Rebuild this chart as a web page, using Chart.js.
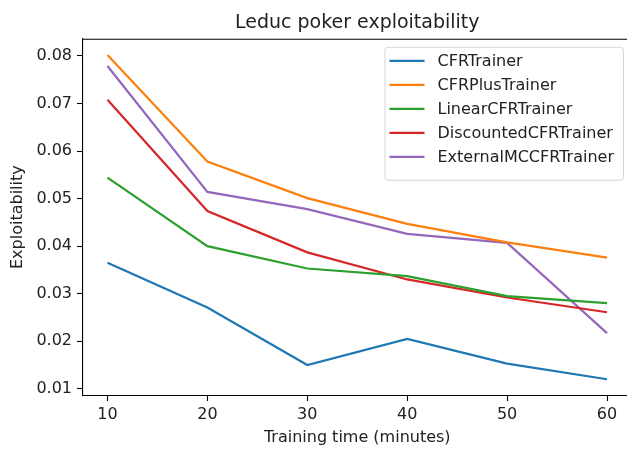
<!DOCTYPE html>
<html>
<head>
<meta charset="utf-8">
<script src="https://cdn.jsdelivr.net/npm/chart.js@4/dist/chart.umd.min.js"></script>
<style>
  html, body { margin: 0; padding: 0; background: #fff; overflow: hidden; }
  #wrap { width: 640px; height: 449px; }
</style>
</head>
<body>
<div id="wrap"><canvas id="graph" width="640" height="449"></canvas></div>
<script>
// Chart values
const minutes = [10, 20, 30, 40, 50, 60];
const cfrTrainer = [0.0365, 0.0271, 0.0150, 0.0205, 0.0153, 0.0120];
const cfrPlusTrainer = [0.0802, 0.0578, 0.0501, 0.0447, 0.0408, 0.0376];
const linearCfrTrainer = [0.0544, 0.0400, 0.0353, 0.0337, 0.0295, 0.0280];
const discountedCfrTrainer = [0.0708, 0.0474, 0.0387, 0.0330, 0.0292, 0.0261];
const externalMccfrTrainer = [0.0779, 0.0514, 0.0478, 0.0426, 0.0407, 0.0217];

const seriesNames = ['CFRTrainer', 'CFRPlusTrainer', 'LinearCFRTrainer', 'DiscountedCFRTrainer', 'ExternalMCCFRTrainer'];
const seriesValues = [cfrTrainer, cfrPlusTrainer, linearCfrTrainer, discountedCfrTrainer, externalMccfrTrainer];
const seriesColors = ['#1f77b4', '#ff7f0e', '#2ca02c', '#d62728', '#9467bd'];

const xTicks = [10, 20, 30, 40, 50, 60];
const yTicks = [0.01, 0.02, 0.03, 0.04, 0.05, 0.06, 0.07, 0.08];

const FONT = 'DejaVu Sans';

// matplotlib style 5% margins
const allY = seriesValues.flat();
const yLo = Math.min(...allY);
const yHi = Math.max(...allY);
const xLo = Math.min(...minutes);
const xHi = Math.max(...minutes);
const yPad = (yHi - yLo) * 0.05;
const xPad = (xHi - xLo) * 0.05;

const datasets = seriesNames.map((name, i) => ({
  label: name,
  data: minutes.map((m, j) => ({ x: m, y: seriesValues[i][j] })),
  borderColor: seriesColors[i],
  backgroundColor: seriesColors[i],
  borderWidth: 2.2,
  pointRadius: 0,
  tension: 0,
}));

// top / right spine
const framePlugin = {
  id: 'frame',
  afterDatasetsDraw(chart) {
    const { ctx, chartArea } = chart;
    ctx.save();
    ctx.strokeStyle = '#000';
    ctx.lineWidth = 1.1;
    ctx.beginPath();
    ctx.moveTo(chartArea.left, chartArea.top + 0.5);
    ctx.lineTo(chartArea.right, chartArea.top + 0.5);
    ctx.lineTo(chartArea.right, chartArea.bottom);
    ctx.stroke();
    ctx.restore();
  },
};

// matplotlib-like legend box in the upper right
const boxLegend = {
  id: 'boxLegend',
  afterDraw(chart) {
    const { ctx, chartArea } = chart;
    const sets = chart.data.datasets;
    ctx.save();
    ctx.font = '16px "' + FONT + '"';
    const textW = Math.max(...sets.map((d) => ctx.measureText(d.label).width));
    const rowH = 24;
    const w = 6 + 34 + 13 + textW + 9;
    const h = 6 + rowH * sets.length + 7;
    const right = 623;
    const left = right - w;
    const top = chartArea.top + 8;

    ctx.beginPath();
    ctx.roundRect(left + 0.5, top + 0.5, w, h, 3);
    ctx.fillStyle = 'rgba(255,255,255,0.8)';
    ctx.fill();
    ctx.strokeStyle = '#d6d6d6';
    ctx.lineWidth = 1;
    ctx.stroke();

    ctx.textBaseline = 'middle';
    ctx.textAlign = 'left';
    sets.forEach((d, i) => {
      const y = top + 14 + i * rowH;
      ctx.strokeStyle = d.borderColor;
      ctx.lineWidth = 2.2;
      ctx.beginPath();
      ctx.moveTo(left + 5, y);
      ctx.lineTo(left + 40, y);
      ctx.stroke();
      ctx.fillStyle = '#222';
      ctx.fillText(d.label, left + 53, y + 1);
    });
    ctx.restore();
  },
};

const ctx = document.getElementById('graph').getContext('2d');
const chart = new Chart(ctx, {
  type: 'line',
  data: { datasets },
  plugins: [framePlugin, boxLegend],
  options: {
    responsive: false,
    animation: false,
    layout: { padding: { left: 0, right: 8, top: 0, bottom: 0 } },
    plugins: {
      legend: { display: false },
      tooltip: { enabled: false },
      title: {
        display: true,
        text: 'Leduc poker exploitability',
        fullSize: false,
        color: '#222',
        font: { family: FONT, size: 19, weight: 'normal' },
        padding: { top: 12, bottom: 4 },
      },
    },
    scales: {
      x: {
        type: 'linear',
        min: xLo - xPad,
        max: xHi + xPad,
        afterBuildTicks: (scale) => { scale.ticks = xTicks.map((v) => ({ value: v })); },
        afterFit: (scale) => { scale.height = 53.5; },
        grid: { drawOnChartArea: false, drawTicks: true, tickLength: 5.5, tickColor: '#000', tickWidth: 1.1 },
        border: { display: true, color: '#000', width: 1.1 },
        ticks: {
          autoSkip: false,
          maxRotation: 0,
          padding: 4,
          color: '#222',
          font: { family: FONT, size: 16 },
          callback: (v) => String(v),
        },
        title: {
          display: true,
          text: 'Training time (minutes)',
          color: '#222',
          font: { family: FONT, size: 16 },
          padding: { top: 0, bottom: 2 },
        },
      },
      y: {
        type: 'linear',
        min: yLo - yPad,
        max: yHi + yPad,
        afterBuildTicks: (scale) => { scale.ticks = yTicks.map((v) => ({ value: v })); },
        afterFit: (scale) => { scale.width = 82.5; },
        grid: { drawOnChartArea: false, drawTicks: true, tickLength: 5.5, tickColor: '#000', tickWidth: 1.1 },
        border: { display: true, color: '#000', width: 1.1 },
        ticks: {
          autoSkip: false,
          padding: 5,
          color: '#222',
          font: { family: FONT, size: 16 },
          callback: (v) => v.toFixed(2),
        },
        title: {
          display: true,
          text: 'Exploitability',
          color: '#222',
          font: { family: FONT, size: 16 },
          padding: { top: 8, bottom: 0 },
        },
      },
    },
  },
});
</script>
</body>
</html>
